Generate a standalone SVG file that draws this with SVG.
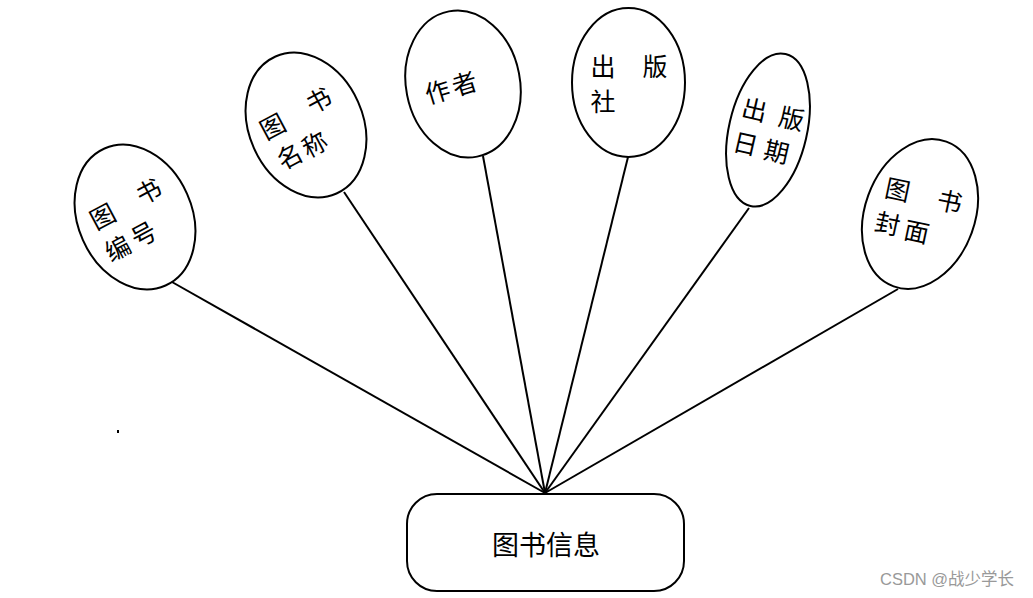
<svg xmlns="http://www.w3.org/2000/svg" width="1033" height="598" viewBox="0 0 1033 598">
<style>
.sh{fill:#fff;stroke:#000;stroke-width:2}
.ln{stroke:#000;stroke-width:2;fill:none}
.t{font-family:"Noto Sans CJK SC","Noto Sans",sans-serif;font-size:25px;fill:#000;text-anchor:middle;dominant-baseline:central}
.wm{font-family:"Liberation Sans","Noto Sans CJK SC",sans-serif;font-size:16.5px;fill:#999}
</style>
<rect width="1033" height="598" fill="#fff"/>
<g id="connectors">
<line class="ln" x1="172" y1="282" x2="545" y2="493"/>
<line class="ln" x1="344" y1="192" x2="545" y2="493"/>
<line class="ln" x1="483" y1="156" x2="545" y2="493"/>
<line class="ln" x1="628" y1="157" x2="545" y2="493"/>
<line class="ln" x1="749" y1="208" x2="545" y2="493"/>
<line class="ln" x1="898" y1="289" x2="545" y2="493"/>
</g>
<g id="n1">
<ellipse class="sh" cx="135" cy="217" rx="57" ry="75" transform="rotate(-24 135 217)"/>
<text class="t" x="102" y="215" transform="rotate(-28 102 215)">图</text>
<text class="t" x="148" y="190" transform="rotate(-28 148 190)">书</text>
<text class="t" x="117" y="247" transform="rotate(-28 117 247)">编</text>
<text class="t" x="143" y="233" transform="rotate(-28 143 233)">号</text>
</g>
<g id="n2">
<ellipse class="sh" cx="306" cy="125" rx="57" ry="75" transform="rotate(-24 306 125)"/>
<text class="t" x="272" y="125" transform="rotate(-28 272 125)">图</text>
<text class="t" x="318" y="99" transform="rotate(-28 318 99)">书</text>
<text class="t" x="289" y="155" transform="rotate(-28 289 155)">名</text>
<text class="t" x="314" y="143" transform="rotate(-28 314 143)">称</text>
</g>
<g id="n3">
<ellipse class="sh" cx="463" cy="84" rx="57" ry="74" transform="rotate(-11 463 84)"/>
<text class="t" x="437" y="90" transform="rotate(-17 437 90)">作</text>
<text class="t" x="464" y="82" transform="rotate(-17 464 82)">者</text>
</g>
<g id="n4">
<ellipse class="sh" cx="628.5" cy="82.5" rx="56.5" ry="74.5"/>
<text class="t" x="603" y="65">出</text>
<text class="t" x="655" y="65">版</text>
<text class="t" x="603" y="100">社</text>
</g>
<g id="n5">
<ellipse class="sh" cx="768" cy="130" rx="39" ry="78" transform="rotate(13 768 130)"/>
<text class="t" x="755" y="108" transform="rotate(13 755 108)">出</text>
<text class="t" x="792" y="117" transform="rotate(13 792 117)">版</text>
<text class="t" x="746" y="142" transform="rotate(13 746 142)">日</text>
<text class="t" x="777" y="150" transform="rotate(13 777 150)">期</text>
</g>
<g id="n6">
<ellipse class="sh" cx="920" cy="214" rx="55" ry="77" transform="rotate(20 920 214)"/>
<text class="t" x="898" y="188" transform="rotate(12 898 188)">图</text>
<text class="t" x="950" y="200" transform="rotate(12 950 200)">书</text>
<text class="t" x="888" y="222" transform="rotate(12 888 222)">封</text>
<text class="t" x="917" y="230" transform="rotate(12 917 230)">面</text>
</g>
<g id="main">
<rect class="sh" x="407" y="494" width="277" height="97" rx="30" ry="30"/>
<text class="t" x="546" y="543" style="font-size:27px">图书信息</text>
</g>
<rect x="117" y="430" width="2" height="3" fill="#000"/>
<text class="wm" x="880" y="585">CSDN @战少学长</text>
</svg>
